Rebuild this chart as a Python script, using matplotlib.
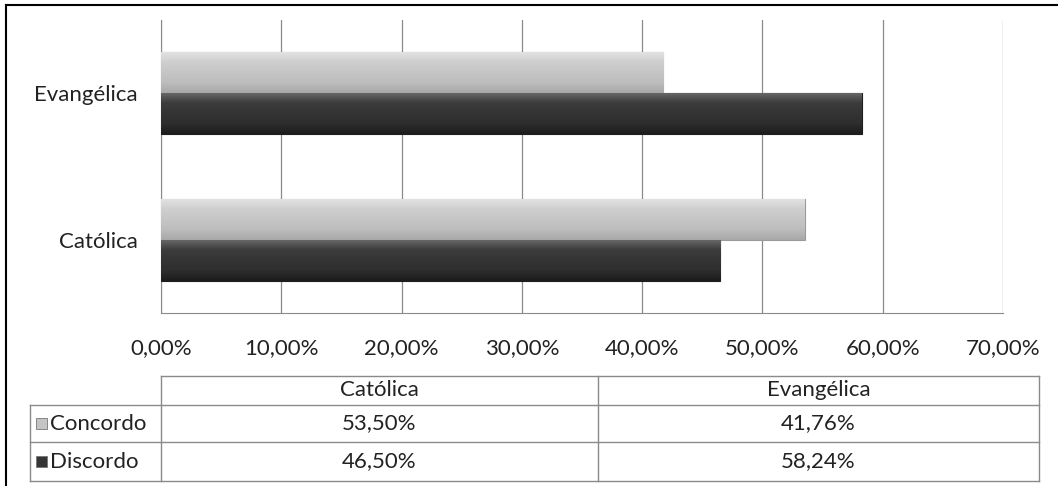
import matplotlib
matplotlib.use("Agg")
import matplotlib.pyplot as plt
import numpy as np
from matplotlib.colors import LinearSegmentedColormap
from matplotlib.lines import Line2D
from matplotlib.patches import Rectangle
from matplotlib.ticker import FuncFormatter

plt.rcParams["font.family"] = ["Lato", "DejaVu Sans"]

categorias = ["Católica", "Evangélica"]
series = ["Concordo", "Discordo"]
concordo = [53.50, 41.76]
discordo = [46.50, 58.24]
x_ticks = [0, 10, 20, 30, 40, 50, 60, 70]

CLARO = "#c4c4c4"
ESCURO = "#363636"
GRADE = "#8a8a8a"
FS = 16

W, H = 1058, 486
fig = plt.figure(figsize=(W / 100, H / 100), dpi=100)

def fx(px):
    return px / W

def fy(py):
    return 1 - py / H

ax = fig.add_axes([fx(161), fy(313), fx(1003) - fx(161), fy(20) - fy(313)])

h = 0.28
y = list(range(len(categorias)))
b1 = ax.barh([v + h / 2 for v in y], concordo, height=h, color=CLARO,
             edgecolor="#9a9a9a", linewidth=0.8, zorder=3)
b2 = ax.barh([v - h / 2 for v in y], discordo, height=h, color=ESCURO,
             edgecolor="#1e1e1e", linewidth=0.8, zorder=3)

# leve degradê vertical nas barras (efeito 3D do Excel)
grad_claro = LinearSegmentedColormap.from_list(
    "gc", ["#a8a8a8", "#bdbdbd", "#c6c6c6", "#cfcfcf", "#e4e4e4"])
grad_escuro = LinearSegmentedColormap.from_list(
    "ge", ["#1c1c1c", "#2e2e2e", "#343434", "#3c3c3c", "#6a6a6a"])
col = np.linspace(0, 1, 64).reshape(-1, 1)
for bars, cmap in [(b1, grad_claro), (b2, grad_escuro)]:
    for p in bars:
        x0, y0, w, hh = p.get_x(), p.get_y(), p.get_width(), p.get_height()
        im = ax.imshow(col, cmap=cmap, aspect="auto", origin="lower",
                       extent=[x0, x0 + w, y0, y0 + hh], zorder=3.5)
        im.set_clip_path(p)

ax.set_xlim(0, 70)
ax.set_ylim(-0.5, 1.5)
ax.set_xticks(x_ticks)
ax.xaxis.set_major_formatter(FuncFormatter(lambda v, _: f"{v:.2f}%".replace(".", ",")))
ax.set_yticks(y)
ax.set_yticklabels(categorias)
ax.tick_params(axis="x", length=0, pad=18, labelsize=FS, colors="#222222")
ax.tick_params(axis="y", length=0, pad=17, labelsize=FS, colors="#222222")
ax.grid(axis="x", color=GRADE, linewidth=0.9, zorder=0)
for s in ["top", "right"]:
    ax.spines[s].set_visible(False)
ax.spines["left"].set_color(GRADE)
ax.spines["bottom"].set_color(GRADE)

# tabela de dados
lc = "#8a8a8a"
rows_y = [376, 405, 442, 481]
x_leg, x_c0, x_mid, x_end = 30, 161, 598, 1039

def hline(x0, x1, yy):
    fig.add_artist(Line2D([fx(x0), fx(x1)], [fy(yy), fy(yy)], color=lc, lw=1.0))

def vline(xx, y0, y1):
    fig.add_artist(Line2D([fx(xx), fx(xx)], [fy(y0), fy(y1)], color=lc, lw=1.0))

hline(x_c0, x_end, rows_y[0])
for yy in rows_y[1:]:
    hline(x_leg, x_end, yy)
vline(x_leg, rows_y[1], rows_y[3])
vline(x_c0, rows_y[0], rows_y[3])
vline(x_mid, rows_y[0], rows_y[3])
vline(x_end, rows_y[0], rows_y[3])

col_cx = [(x_c0 + x_mid) / 2, (x_mid + x_end) / 2]
txt = dict(fontsize=FS, color="#222222", va="center", ha="center")
for cx, cat in zip(col_cx, categorias):
    fig.text(fx(cx), fy((rows_y[0] + rows_y[1]) / 2), cat, **txt)

valores = [concordo, discordo]
cores = [CLARO, ESCURO]
for i, (nome, vals, cor) in enumerate(zip(series, valores, cores)):
    yc = (rows_y[i + 1] + rows_y[i + 2]) / 2
    fig.add_artist(Rectangle((fx(36), fy(yc + 5)), fx(11), fy(0) - fy(11),
                             facecolor=cor, edgecolor="#777777", lw=0.6))
    fig.text(fx(50), fy(yc), nome, fontsize=FS, color="#222222", va="center", ha="left")
    for cx, v in zip(col_cx, vals):
        fig.text(fx(cx), fy(yc), f"{v:.2f}%".replace(".", ","), **txt)

# moldura externa
fig.add_artist(Line2D([fx(6), 1], [fy(5), fy(5)], color="black", lw=1.5))
fig.add_artist(Line2D([fx(6), fx(6)], [fy(5), 0], color="black", lw=1.5))

fig.savefig("out.png", dpi=100)
